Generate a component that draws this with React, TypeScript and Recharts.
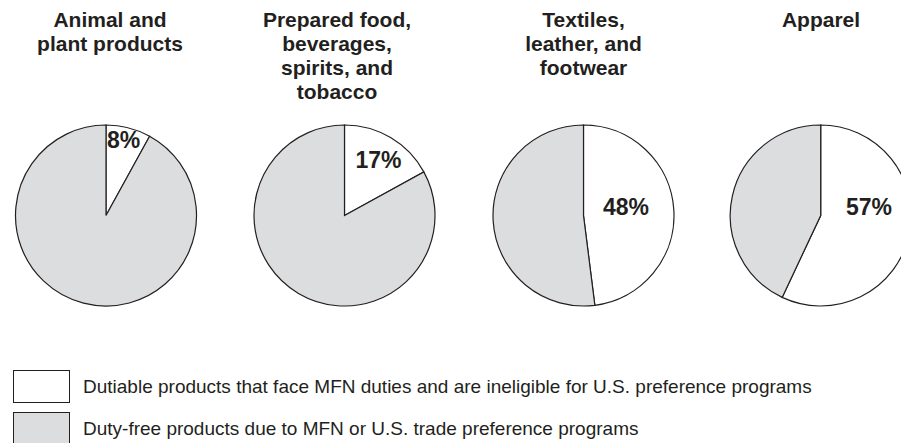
import React from 'react';
import { Pie, PieChart } from 'recharts';

const categories = [
  ['Animal and', 'plant products'],
  ['Prepared food,', 'beverages,', 'spirits, and', 'tobacco'],
  ['Textiles,', 'leather, and', 'footwear'],
  ['Apparel']
];
const dutiableShare = [8, 17, 48, 57];
const seriesNames = [
  'Dutiable products that face MFN duties and are ineligible for U.S. preference programs',
  'Duty-free products due to MFN or U.S. trade preference programs'
];

const INK = '#231f20';
const GRAY = '#dcdddf';
const FONT = '"Liberation Sans", Arial, Helvetica, sans-serif';

// layout
const PIE_CX = [106, 344.5, 583.5, 820.7];
const PIE_CY = 215.5;
const RADIUS = 90.5;
const LABEL_OFFSET = [
  [17.5, -67.5],
  [34, -47.5],
  [42.5, -0.5],
  [48.3, -0.5]
];
const TITLE_X = [110, 337, 583.5, 821];

function makeLabel(i: number) {
  return (props: any) => {
    if (props.index !== 0) return null;
    const [dx, dy] = LABEL_OFFSET[i];
    return (
      <text
        x={PIE_CX[i] + dx}
        y={PIE_CY + dy}
        textAnchor="middle"
        fill={INK}
        fontFamily={FONT}
        fontWeight="bold"
        fontSize={23}
      >
        {`${dutiableShare[i]}%`}
      </text>
    );
  };
}

export default function App() {
  return (
    <div
      style={{
        position: 'absolute',
        left: 0,
        top: 0,
        width: 901,
        height: 443,
        overflow: 'hidden',
        background: '#fff',
        fontFamily: FONT,
        color: INK
      }}
    >
      {categories.map((lines, i) => (
        <div
          key={i}
          style={{
            position: 'absolute',
            left: TITLE_X[i] - 100,
            top: 8,
            width: 200,
            textAlign: 'center',
            fontWeight: 'bold',
            fontSize: 21,
            lineHeight: '24px'
          }}
        >
          {lines.map((l, j) => (
            <div key={j}>{l}</div>
          ))}
        </div>
      ))}

      <div style={{ position: 'absolute', left: 0, top: 0 }}>
        <PieChart width={930} height={330} margin={{ top: 0, right: 0, bottom: 0, left: 0 }}>
          {dutiableShare.map((v, i) => (
            <Pie
              key={i}
              data={[
                { name: seriesNames[0], value: v, fill: '#ffffff' },
                { name: seriesNames[1], value: 100 - v, fill: GRAY }
              ]}
              dataKey="value"
              cx={PIE_CX[i]}
              cy={PIE_CY}
              outerRadius={RADIUS}
              startAngle={90}
              endAngle={-270}
              stroke={INK}
              strokeWidth={1.2}
              labelLine={false}
              label={makeLabel(i)}
              isAnimationActive={false}
            />
          ))}
        </PieChart>
      </div>

      {seriesNames.map((name, i) => (
        <div
          key={name}
          style={{
            position: 'absolute',
            left: 13,
            top: 370 + i * 42,
            height: 33,
            display: 'flex',
            alignItems: 'center'
          }}
        >
          <div
            style={{
              width: 55,
              height: 31,
              border: `1.2px solid ${INK}`,
              background: i === 0 ? '#ffffff' : GRAY
            }}
          />
          <span style={{ marginLeft: 13, fontSize: 19, whiteSpace: 'nowrap' }}>{name}</span>
        </div>
      ))}
    </div>
  );
}
